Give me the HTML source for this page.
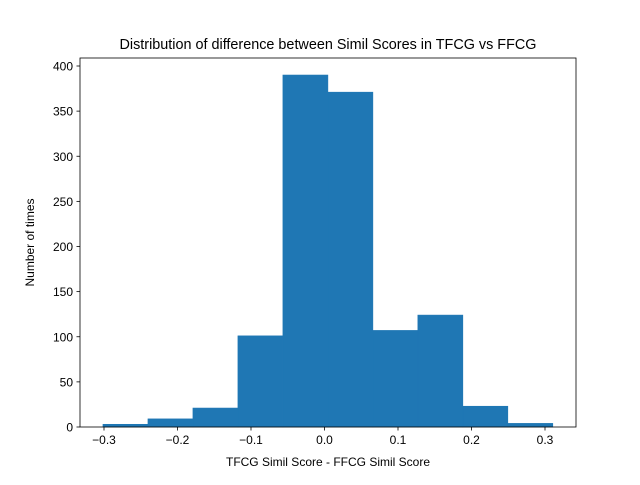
<!DOCTYPE html>
<html><head><meta charset="utf-8"><style>
body{margin:0;background:#fff;}
svg{font-family:"Liberation Sans","DejaVu Sans",sans-serif;}
</style></head><body>
<svg id="chart" width="640" height="480" viewBox="0 0 640 480">
<rect x="0" y="0" width="640" height="480" fill="#fff"/>
<g id="bars"></g>
<g id="axes"></g>
<text x="328" y="49" text-anchor="middle" font-size="14.4">Distribution of difference between Simil Scores in TFCG vs FFCG</text>
<text x="328" y="466" text-anchor="middle" font-size="12">TFCG Simil Score - FFCG Simil Score</text>
<text x="0" y="0" transform="translate(34,242.5) rotate(-90)" text-anchor="middle" font-size="12">Number of times</text>
</svg>
<script>
const binStart = -0.3014;
const binWidth = 0.0612;
const counts = [3, 9, 21, 101, 390, 371, 107, 124, 23, 4];
const xTicks = [-0.3, -0.2, -0.1, 0.0, 0.1, 0.2, 0.3];
const xTickLabels = ["\u22120.3", "\u22120.2", "\u22120.1", "0.0", "0.1", "0.2", "0.3"];
const yTicks = [0, 50, 100, 150, 200, 250, 300, 350, 400];

const L = 80, R = 576, T = 58, B = 427;
function xs(v){ return 324.5 + v * 735; }
function ys(v){ return 427 - v * 0.9025; }
const NS = "http://www.w3.org/2000/svg";
function mk(tag, attrs, parent){
  const e = document.createElementNS(NS, tag);
  for (const k in attrs) e.setAttribute(k, attrs[k]);
  parent.appendChild(e); return e;
}
const bars = document.getElementById('bars');
counts.forEach((c, i) => {
  const x0 = xs(binStart + i * binWidth), x1 = xs(binStart + (i + 1) * binWidth);
  const r = mk('rect', {x: x0, y: ys(c), width: x1 - x0, height: ys(0) - ys(c), fill: '#1f77b4', stroke: '#1f77b4', 'stroke-width': 0.6}, bars);
  
  
});
const axes = document.getElementById('axes');
const frame = mk('rect', {x: L, y: T, width: R - L, height: B - T, fill: 'none', stroke: '#000', 'stroke-width': 0.8}, axes);


xTicks.forEach((v, i) => {
  const x = xs(v);
  mk('line', {x1: x, x2: x, y1: B, y2: B + 3.5, stroke: '#000', 'stroke-width': 0.8}, axes);
  const t = mk('text', {x: x, y: B + 17, 'text-anchor': 'middle', 'font-size': 12}, axes);
  t.textContent = xTickLabels[i];
  
  
});
yTicks.forEach(v => {
  const y = ys(v);
  mk('line', {x1: L - 3.5, x2: L, y1: y, y2: y, stroke: '#000', 'stroke-width': 0.8}, axes);
  const t = mk('text', {x: L - 7, y: y + 4.5, 'text-anchor': 'end', 'font-size': 12}, axes);
  t.textContent = v;
  
  
});
</script>
</body></html>
